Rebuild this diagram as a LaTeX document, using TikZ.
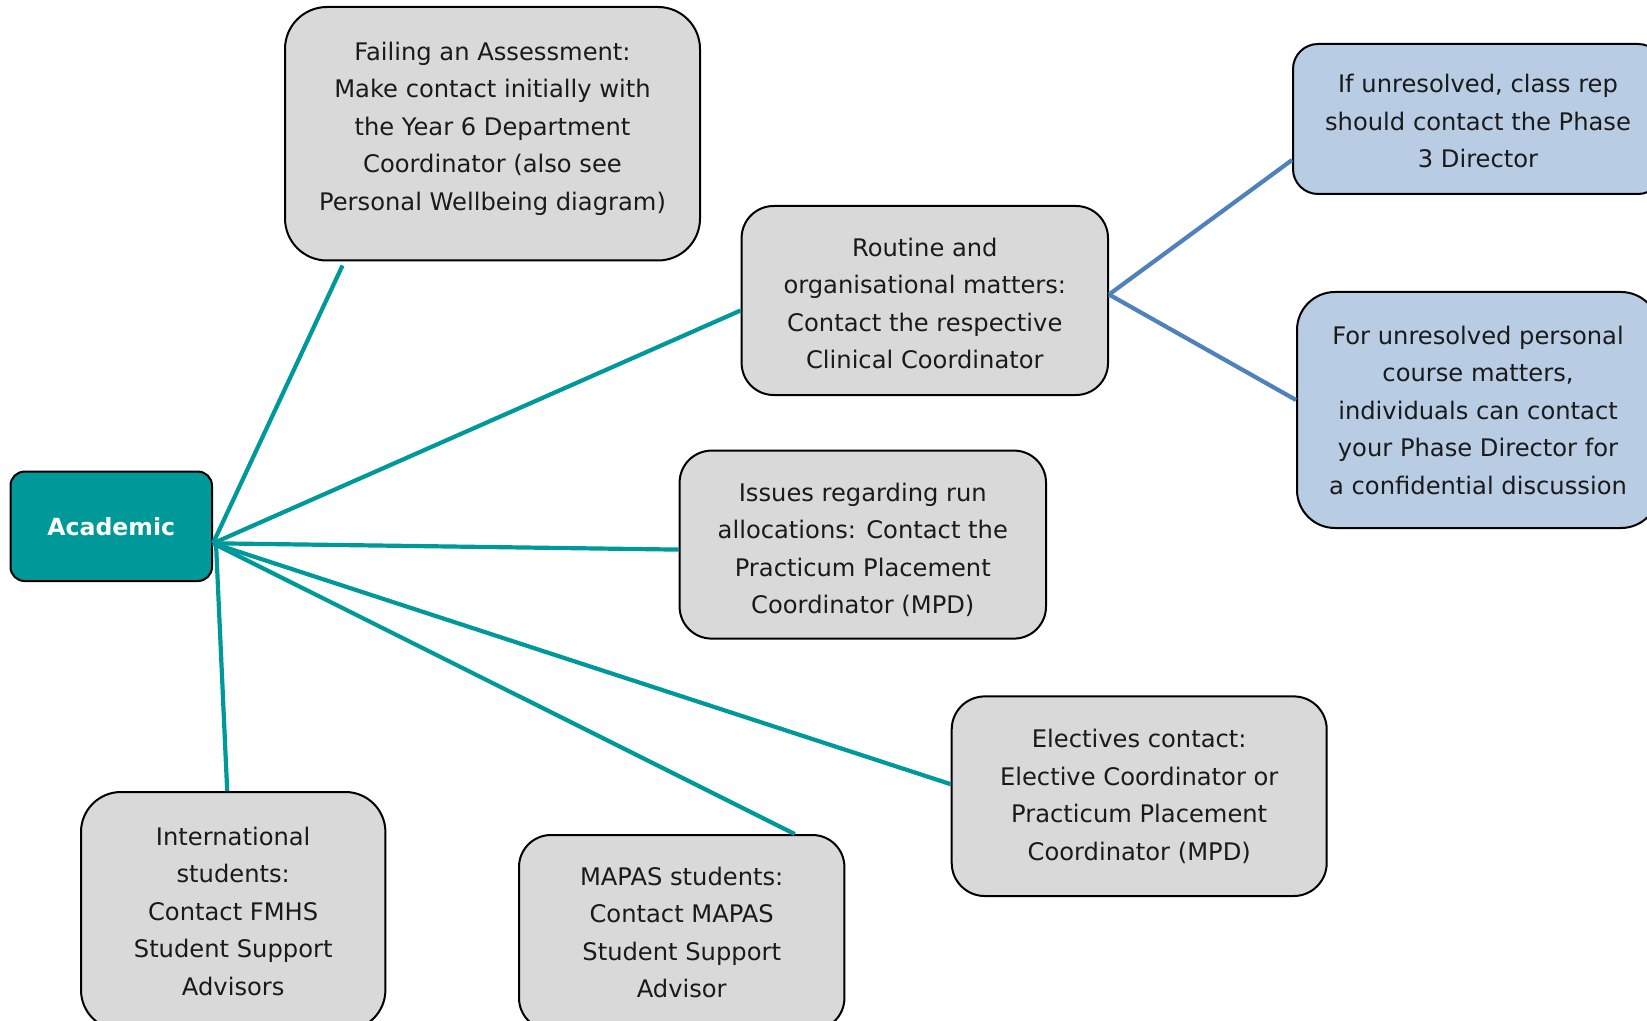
\documentclass[tikz,border=0pt]{standalone}
\usepackage{fontspec}
\setmainfont{DejaVu Sans}
\usetikzlibrary{calc}
\definecolor{teal1}{HTML}{009999}
\definecolor{blueline}{HTML}{4F81BD}
\definecolor{boxgray}{HTML}{D9D9D9}
\definecolor{boxblue}{HTML}{B8CCE4}
\definecolor{ink}{HTML}{1A1A1A}
\tikzset{
  box/.style={draw=black, line width=1pt, fill=boxgray, inner sep=0pt},
  bluebox/.style={box, fill=boxblue},
  boxtext/.style={align=center, inner sep=0pt, text=ink,
    font={\fontsize{12.1pt}{18.75pt}\selectfont}},
  hubbox/.style={draw=black, line width=1pt, fill=teal1, rounded corners=7pt, text=white,
    font={\fontsize{11.8pt}{14pt}\selectfont\bfseries}, inner sep=0pt},
  tealline/.style={draw=teal1, line width=2.1pt},
  blueln/.style={draw=blueline, line width=2.1pt},
}
\begin{document}
\begin{tikzpicture}[x=0.5pt,y=-0.5pt]
\useasboundingbox (0,0) rectangle (1647,1021);
\clip (0,0) rectangle (1647,1021);
\fill[white] (0,0) rectangle (1647,1021);

\node[hubbox, minimum width=100.75pt, minimum height=54.7pt] (acad) at (111.25,526.3) {Academic};

\node[box, rounded corners=21pt, minimum width=207.5pt, minimum height=126.75pt] (fail) at (492.5,133.75) {};
\node[boxtext] (failT) at ($(fail.center)+(0,-5.25)$)
  {Failing an Assessment:\\Make contact initially with\\the Year 6 Department\\Coordinator (also see\\Personal Wellbeing diagram)};

\node[box, rounded corners=16pt, minimum width=183.2pt, minimum height=94.5pt] (routine) at (924.8,300.5) {};
\node[boxtext] (routineT) at ($(routine.center)+(0,3.2)$)
  {Routine and\\organisational matters:\\Contact the respective\\Clinical Coordinator};

\node[box, rounded corners=16pt, minimum width=183.2pt, minimum height=94pt] (issues) at (862.8,544.6) {};
\node[boxtext] (issuesT) at ($(issues.center)+(0,5.25)$)
  {Issues regarding run\\allocations: Contact the\\Practicum Placement\\Coordinator (MPD)};

\node[box, rounded corners=16.5pt, minimum width=187.5pt, minimum height=99.8pt] (elect) at (1139.2,796.2) {};
\node[boxtext] (electT) at (elect.center)
  {Electives contact:\\Elective Coordinator or\\Practicum Placement\\Coordinator (MPD)};

\node[box, rounded corners=20pt, minimum width=152.2pt, minimum height=119pt] (intl) at (233.2,911) {};
\node[boxtext] (intlT) at (intl.center)
  {International\\students:\\Contact FMHS\\Student Support\\Advisors};

\node[box, rounded corners=16pt, minimum width=162.7pt, minimum height=97.5pt] (mapas) at (681.7,932.5) {};
\node[boxtext] (mapasT) at (mapas.center)
  {MAPAS students:\\Contact MAPAS\\Student Support\\Advisor};

\node[bluebox, rounded corners=12.5pt, minimum width=185pt, minimum height=75pt] (blueA) at (1478,119) {};
\node[boxtext] (blueAT) at ($(blueA.center)+(0,2.1)$)
  {If unresolved, class rep\\should contact the Phase\\3 Director};

\node[bluebox, rounded corners=19pt, minimum width=181pt, minimum height=118pt] (blueB) at (1478,410) {};
\node[boxtext] (blueBT) at (blueB.center)
  {For unresolved personal\\course matters,\\individuals can contact\\your Phase Director for\\a confidential discussion};

\coordinate (hub) at ($(acad.east)+(0,17)$);
\draw[tealline] (hub) -- ($(fail.south)+(-150,4)$);
\draw[tealline] (hub) -- ($(routine.west)+(0,10)$);
\draw[tealline] (hub) -- ($(issues.west)+(0,5)$);
\draw[tealline] (hub) -- ($(elect.west)+(0,-12)$);
\draw[tealline] (hub) -- ($(mapas.north)+(113,0)$);
\draw[tealline] ($(hub)+(3,0)$) -- ($(intl.north)+(-6,0)$);

\draw[blueln] ($(routine.east)+(0,-6)$) -- ($(blueA.west)+(0,41)$);
\draw[blueln] ($(routine.east)+(0,-6)$) -- ($(blueB.west)+(0,-10)$);
\end{tikzpicture}
\end{document}
